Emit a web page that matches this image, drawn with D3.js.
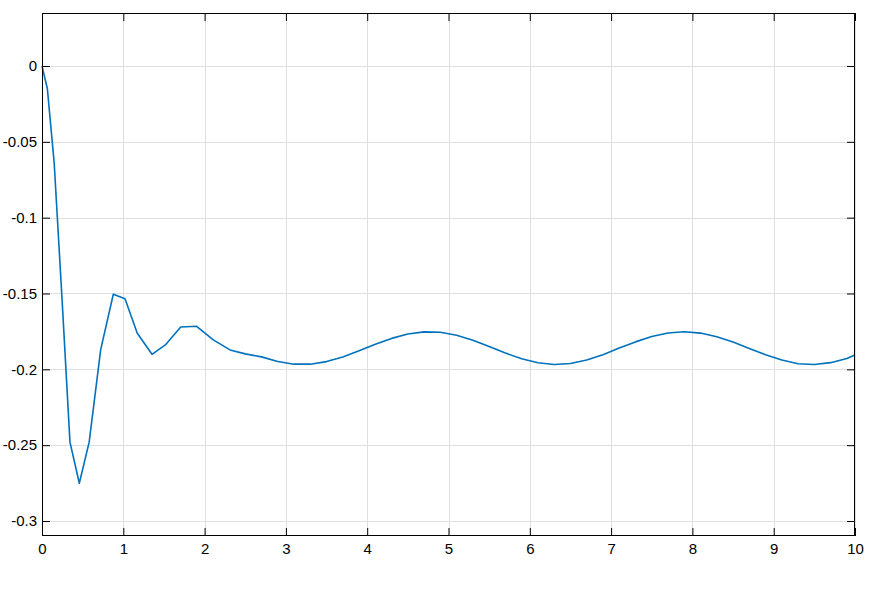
<!DOCTYPE html>
<html>
<head>
<meta charset="utf-8">
<script src="https://cdn.jsdelivr.net/npm/d3@7"></script>
<style>
  html, body { margin: 0; padding: 0; background: #fff; }
  svg { display: block; }
  text { font-family: "Liberation Sans", Arial, sans-serif; }
</style>
</head>
<body>
<svg id="chart" width="875" height="590"></svg>
<script>
// ---- data ----
const tValues = [0, 0.066, 0.15, 0.25, 0.344, 0.459, 0.58, 0.722, 0.877, 1.021, 1.172, 1.353, 1.517, 1.706, 1.902, 2.107, 2.312, 2.5, 2.7, 2.9, 3.1, 3.3, 3.5, 3.7, 3.9, 4.1, 4.3, 4.5, 4.7, 4.9, 5.1, 5.3, 5.5, 5.7, 5.9, 6.1, 6.3, 6.5, 6.7, 6.9, 7.1, 7.3, 7.5, 7.7, 7.9, 8.1, 8.3, 8.5, 8.7, 8.9, 9.1, 9.3, 9.5, 9.7, 9.9, 10];
const yValues = [0, -0.015, -0.064, -0.157, -0.248, -0.2751, -0.248, -0.187, -0.1505, -0.1534, -0.1762, -0.1901, -0.1839, -0.1721, -0.1716, -0.1806, -0.1872, -0.1898, -0.1918, -0.1948, -0.1966, -0.1966, -0.1949, -0.1918, -0.1878, -0.1835, -0.1796, -0.1767, -0.1753, -0.1756, -0.1775, -0.1808, -0.185, -0.1893, -0.193, -0.1957, -0.1968, -0.1962, -0.1939, -0.1904, -0.186, -0.1819, -0.1784, -0.176, -0.1752, -0.1761, -0.1785, -0.182, -0.1862, -0.1904, -0.1939, -0.1963, -0.1968, -0.1956, -0.1928, -0.1905];
const xTicks = [0, 1, 2, 3, 4, 5, 6, 7, 8, 9, 10];
const yTicks = [0, -0.05, -0.1, -0.15, -0.2, -0.25, -0.3];
const yTickLabels = ["0", "-0.05", "-0.1", "-0.15", "-0.2", "-0.25", "-0.3"];

// ---- layout ----
const L = 42, R = 855, T = 13, B = 536;
const svg = d3.select("#chart");
const x = d3.scaleLinear().domain([0, 10]).range([L, R]);
const y = d3.scaleLinear().domain([-0.30989, 0.03494]).range([B, T]);
const tickLen = 8;
const fontSize = 15;

// grid
const grid = svg.append("g");
grid.selectAll("line.gx").data(xTicks).join("line")
  .attr("x1", d => Math.round(x(d)) + 0.5).attr("x2", d => Math.round(x(d)) + 0.5)
  .attr("y1", T).attr("y2", B)
  .attr("stroke", "#dfdfdf").attr("stroke-width", 1);
grid.selectAll("line.gy").data(yTicks).join("line")
  .attr("y1", d => Math.round(y(d)) + 0.5).attr("y2", d => Math.round(y(d)) + 0.5)
  .attr("x1", L).attr("x2", R)
  .attr("stroke", "#dfdfdf").attr("stroke-width", 1);

// axes (inward ticks on all sides)
const fmtY = d => yTickLabels[yTicks.indexOf(d)];
const axB = d3.axisBottom(x).tickValues(xTicks).tickSize(-tickLen).tickPadding(7).tickFormat(d3.format("d"));
const axT = d3.axisTop(x).tickValues(xTicks).tickSize(-tickLen).tickFormat("");
const axL = d3.axisLeft(y).tickValues(yTicks).tickSize(-tickLen).tickPadding(5).tickFormat(fmtY);
const axR = d3.axisRight(y).tickValues(yTicks).tickSize(-tickLen).tickFormat("");

function style(g) {
  g.select(".domain").remove();
  g.selectAll(".tick line").attr("stroke", "#000").attr("stroke-width", 1);
  g.selectAll(".tick text").attr("fill", "#000").attr("font-size", fontSize)
    .attr("font-family", "'Liberation Sans', Arial, sans-serif");
}
svg.append("g").attr("transform", `translate(0,${B})`).call(axB).call(style);
svg.append("g").attr("transform", `translate(0,${T})`).call(axT).call(style);
svg.append("g").attr("transform", `translate(${L},0)`).call(axL).call(style);
svg.append("g").attr("transform", `translate(${R},0)`).call(axR).call(style);

// line
const data = tValues.map((t, i) => ({ t, v: yValues[i] }));
svg.append("path").datum(data)
  .attr("fill", "none")
  .attr("stroke", "#0072BD")
  .attr("stroke-width", 1.6)
  .attr("stroke-linejoin", "round")
  .attr("d", d3.line().x(d => x(d.t)).y(d => y(d.v)));

// frame
svg.append("rect").attr("x", L + 0.5).attr("y", T + 0.5)
  .attr("width", R - L - 1).attr("height", B - T - 1)
  .attr("fill", "none").attr("stroke", "#000").attr("stroke-width", 1);
</script>
</body>
</html>
